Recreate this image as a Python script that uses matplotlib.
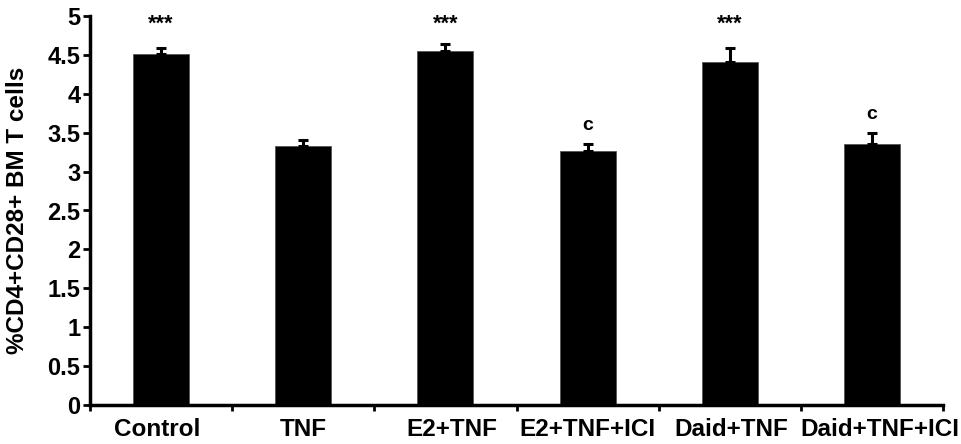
import matplotlib
matplotlib.use("Agg")
import matplotlib.pyplot as plt
import matplotlib.transforms as mtransforms
import numpy as np

categories = ["Control", "TNF", "E2+TNF", "E2+TNF+ICI", "Daid+TNF", "Daid+TNF+ICI"]
values = [4.51, 3.33, 4.55, 3.27, 4.41, 3.35]
errors = [0.08, 0.07, 0.09, 0.08, 0.18, 0.14]
annotations = ["***", "", "***", "c", "***", "c"]
yticks = [0, 0.5, 1, 1.5, 2, 2.5, 3, 3.5, 4, 4.5, 5]
ytick_labels = ["0", "0.5", "1", "1.5", "2", "2.5", "3", "3.5", "4", "4.5", "5"]

plt.rcParams['font.family'] = ['Liberation Sans', 'DejaVu Sans']
plt.rcParams['font.weight'] = 'bold'

fig = plt.figure(figsize=(9.62, 4.44), dpi=100)
ax = fig.add_axes([90/962, 39/444, 853/962, 389/444])

x = np.arange(len(categories)) + 0.5
ax.bar(x, values, width=0.395, color='black', edgecolor='#555555', linewidth=0.6, zorder=2)
ax.errorbar(x, values, yerr=[np.zeros(len(errors)), errors], fmt='none',
            ecolor='black', elinewidth=2.2, capsize=3.5, capthick=2.2, zorder=3)

for xi, v, e, a in zip(x, values, errors, annotations):
    if a == "***":
        ax.text(xi, 4.90, a, ha='center', va='center', fontsize=15.5, fontweight='bold')
    elif a:
        ax.text(xi, v + e + 0.24, a, ha='center', va='center', fontsize=14, fontweight='bold')

ax.set_xlim(0, len(categories))
ax.set_ylim(0, 5)
ax.set_yticks(yticks)
ax.set_yticklabels(ytick_labels, fontsize=17, fontweight='bold')
ax.set_xticks(x)
ax.set_xticklabels(categories, fontsize=17.5, fontweight='bold')
ax.tick_params(axis='x', which='major', length=0, pad=9)
ax.set_xticks(np.arange(0, len(categories) + 1), minor=True)
ax.tick_params(axis='x', which='minor', length=4, width=2, direction='out')
ax.tick_params(axis='y', length=5, width=2, direction='out', pad=2)

# small horizontal nudges of the category labels, as in the reference
shifts_px = [-4, 0, 6, 0, 2, 8]
for lab, dx in zip(ax.get_xticklabels(), shifts_px):
    lab.set_transform(lab.get_transform() + mtransforms.ScaledTranslation(dx / 100, 0, fig.dpi_scale_trans))

for s in ['top', 'right']:
    ax.spines[s].set_visible(False)
for s in ['left', 'bottom']:
    ax.spines[s].set_linewidth(2.5)

ax.set_ylabel("%CD4+CD28+ BM T cells", fontsize=17.5, fontweight='bold')
ax.yaxis.set_label_coords(-0.0715, 0.5)

fig.savefig("out.png", dpi=100)
